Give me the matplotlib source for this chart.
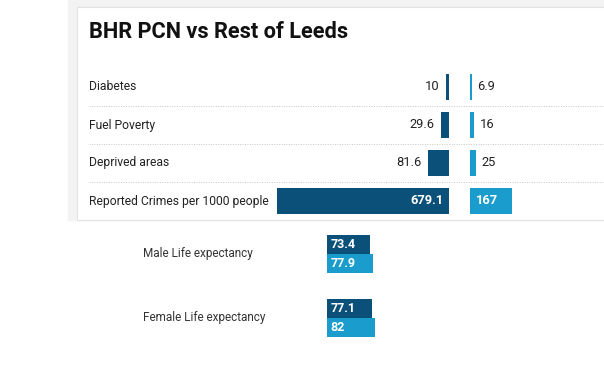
import matplotlib.pyplot as plt
from matplotlib.patches import Rectangle
from matplotlib.lines import Line2D

plt.rcParams['font.family'] = ['Roboto', 'DejaVu Sans']

# data
categories = ['Diabetes', 'Fuel Poverty', 'Deprived areas', 'Reported Crimes per 1000 people']
bhr = [10, 29.6, 81.6, 679.1]
leeds = [6.9, 16, 25, 167]

life_labels = ['Male Life expectancy', 'Female Life expectancy']
life_bhr = [73.4, 77.1]
life_leeds = [77.9, 82]

DARK = '#0b5078'
LIGHT = '#1a9ccc'
W, H = 604, 366

fig = plt.figure(figsize=(W / 100, H / 100), dpi=100)


def px_axes(x0, y0, x1, y1):
    # pixel box (top-left origin) -> figure axes
    ax = fig.add_axes([x0 / W, 1 - y1 / H, (x1 - x0) / W, (y1 - y0) / H])
    ax.axis('off')
    return ax


def fx(x):
    return x / W


def fy(y):
    return 1 - y / H


# card background
fig.patches.append(Rectangle((fx(68), fy(220)), fx(620 - 68), 220 / H,
                             transform=fig.transFigure, color='#f3f3f3', zorder=-10))
fig.patches.append(Rectangle((fx(77), fy(220)), fx(620 - 77), (220 - 7) / H,
                             transform=fig.transFigure, facecolor='white',
                             edgecolor='#e2e2e2', lw=0.8, zorder=-9))

fig.text(fx(89), fy(32), 'BHR PCN vs Rest of Leeds', fontsize=15.7, fontweight='bold',
         color='#111111', va='center', ha='left')

# top section
row_top, row_h = 68, 38
n = len(categories)
scale = 0.2535  # px per unit
left_x1 = 449
axL = px_axes(180, row_top, left_x1, row_top + n * row_h)
axL.set_xlim((left_x1 - 180) / scale, 0)
axL.set_ylim(n - 0.5, -0.5)
axR = px_axes(470, row_top, 604, row_top + n * row_h)
axR.set_xlim(0, 134 / scale)
axR.set_ylim(n - 0.5, -0.5)

ypos = list(range(n))
axL.barh(ypos, bhr, height=0.7, color=DARK)
axR.barh(ypos, leeds, height=0.7, color=LIGHT)

for i, (cat, a, b) in enumerate(zip(categories, bhr, leeds)):
    fig.text(fx(89), fy(row_top + (i + 0.5) * row_h), cat, fontsize=8.7,
             color='#222222', va='center', ha='left')
    if i == n - 1:
        # value sits inside the bar
        axL.annotate(f'{a:g}', (0, i), xytext=(-4, 0), textcoords='offset points',
                     ha='right', va='center', fontsize=9.3, color='white', fontweight='bold')
        axR.annotate(f'{b:g}', (0, i), xytext=(4, 0), textcoords='offset points',
                     ha='left', va='center', fontsize=9.3, color='white', fontweight='bold')
    else:
        axL.annotate(f'{a:g}', (a, i), xytext=(-5, 0), textcoords='offset points',
                     ha='right', va='center', fontsize=9.3, color='#222222')
        axR.annotate(f'{b:g}', (b, i), xytext=(4, 0), textcoords='offset points',
                     ha='left', va='center', fontsize=9.3, color='#222222')
    if i < n - 1:
        ysep = fy(row_top + (i + 1) * row_h)
        fig.lines.append(Line2D([fx(89), fx(604)], [ysep, ysep], transform=fig.transFigure,
                                color='#c8c8c8', lw=0.7, linestyle=(0, (1, 1.5))))

# bottom section
life_scale = 0.586
axB = px_axes(327, 222, 450, 350)
axB.set_xlim(0, 123 / life_scale)
axB.set_ylim(1.5, -0.5)
gpos = list(range(len(life_labels)))
bh = 19 / 64
axB.barh([g - bh / 2 for g in gpos], life_bhr, height=bh, color=DARK)
axB.barh([g + bh / 2 for g in gpos], life_leeds, height=bh, color=LIGHT)
for g, lab, a, b in zip(gpos, life_labels, life_bhr, life_leeds):
    fig.text(fx(143), fy(254 + g * 64), lab, fontsize=8.5, color='#333333',
             va='center', ha='left')
    axB.annotate(f'{a:g}', (0, g - bh / 2), xytext=(2.5, 0), textcoords='offset points',
                 ha='left', va='center', fontsize=9, color='white', fontweight='bold')
    axB.annotate(f'{b:g}', (0, g + bh / 2), xytext=(2.5, 0), textcoords='offset points',
                 ha='left', va='center', fontsize=9, color='white', fontweight='bold')

fig.savefig('out.png', dpi=100)
